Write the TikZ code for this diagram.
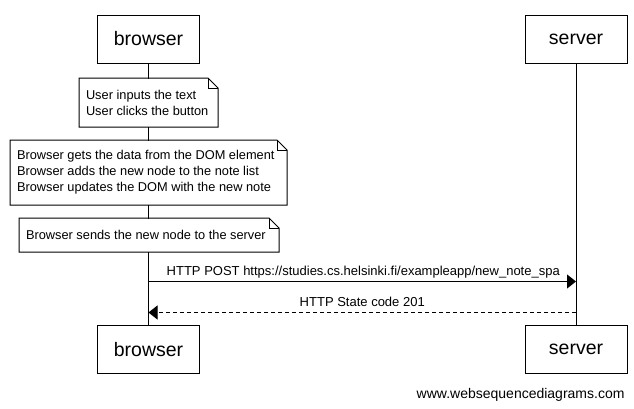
\documentclass[tikz,border=0pt]{standalone}
\usepackage{fontspec}
\setmainfont{Liberation Sans}
\usetikzlibrary{arrows.meta,calc}
\tikzset{
  x=1pt,y=-1pt,
  every path/.style={line width=1pt},
  actor/.style={draw,fill=white,line width=1pt,minimum width=102pt,minimum height=48pt,inner sep=0pt,font=\fontsize{19.5}{22}\selectfont},
  noteshape/.style={fill=white,anchor=north west,inner sep=0pt},
  notetext/.style={anchor=west,inner sep=0pt,align=left,font=\fontsize{12.8}{16}\selectfont},
  lifeline/.style={draw=black,line width=1pt},
  msg/.style={-{Triangle[length=9pt,width=14pt]},line width=1pt},
  reply/.style={msg,dash pattern=on 4pt off 3pt},
  msglabel/.style={anchor=base,inner sep=0pt,font=\fontsize{13}{16}\selectfont},
}
\newcommand\notefold[1]{%
  \draw (#1.north west) -- ($(#1.north east)+(-10,0)$) -- ($(#1.north east)+(0,10)$) -- (#1.south east) -- (#1.south west) -- cycle;
  \draw ($(#1.north east)+(-10,0)$) -- ($(#1.north east)+(-10,10)$) -- ($(#1.north east)+(0,10)$);
}
\begin{document}
\begin{tikzpicture}
\useasboundingbox[fill=white] (0,0) rectangle (634,408);
% actors
\node[actor] (bt) at (148.5,39) {browser};
\node[actor] (st) at (576,39) {server};
\node[actor] (bb) at (148.5,349.5) {browser};
\node[actor] (sb) at (576,349.5) {server};
% lifelines
\draw[lifeline] (bt.south) -- (bb.north);
\draw[lifeline] (st.south) -- (sb.north);
% notes
\node[noteshape,minimum width=138pt,minimum height=48pt] (n1) at (79,78) {};
\notefold{n1}
\node[notetext] (t1) at ($(n1.west)+(6.5,0)$) {User inputs the text\\User clicks the button};
\node[noteshape,minimum width=276pt,minimum height=64pt] (n2) at (10,140) {};
\notefold{n2}
\node[notetext] (t2) at ($(n2.west)+(6.5,0)$) {Browser gets the data from the DOM element\\Browser adds the new node to the note list\\Browser updates the DOM with the new note};
\node[noteshape,minimum width=259pt,minimum height=33pt] (n3) at (19,218) {};
\notefold{n3}
\node[notetext] (t3) at ($(n3.west)+(6.5,0)$) {Browser sends the new node to the server};
% messages
\coordinate (b1) at (bt.south |- 0,281.5);
\coordinate (s1) at (st.south |- 0,281.5);
\coordinate (b2) at (bt.south |- 0,312.5);
\coordinate (s2) at (st.south |- 0,312.5);
\draw[msg] (b1) -- (s1);
\node[msglabel] (l1) at ($(b1)!0.5!(s1)+(1,-6)$) {HTTP POST https://studies.cs.helsinki.fi/exampleapp/new\_note\_spa};
\draw[reply] (s2) -- (b2);
\node[msglabel] (l2) at ($(b2)!0.5!(s2)+(0,-6)$) {HTTP State code 201};
% footer
\node[anchor=base east,inner sep=0pt,font=\fontsize{14}{16}\selectfont] (foot) at (625,398) {www.websequencediagrams.com};
\end{tikzpicture}
\end{document}
